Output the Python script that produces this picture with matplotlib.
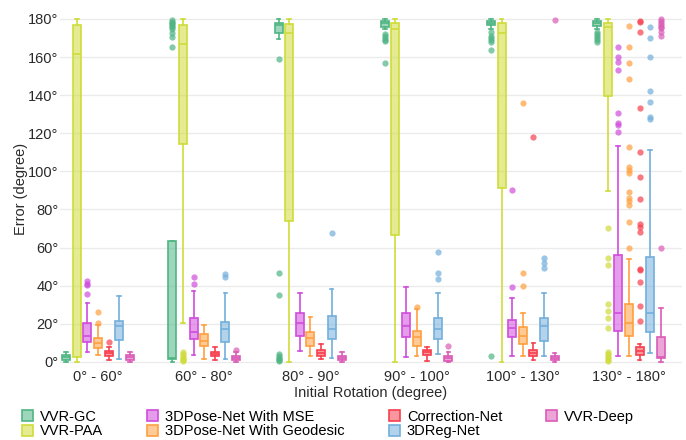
import numpy as np
import matplotlib.pyplot as plt
from matplotlib.patches import Patch
from matplotlib.colors import to_rgba

plt.rcParams['font.family'] = ['Liberation Sans', 'DejaVu Sans']

groups = ['0° - 60°', '60° - 80°', '80° - 90°', '90° - 100°', '100° - 130°', '130° - 180°']
models = ['VVR-GC', 'VVR-PAA', '3DPose-Net With MSE', '3DPose-Net With Geodesic',
          'Correction-Net', '3DReg-Net', 'VVR-Deep']
colors = ['#4fb583', '#cfdc3a', '#d04ddc', '#ffa040', '#f7404f', '#73afdc', '#db5cb6']

# (whisker low, q1, median, q3, whisker high) per group
vvr_gc = [(0, 1, 2.5, 3.5, 5), (0, 1.4, 1.8, 63.6, 63.6), (169.5, 172.8, 176.8, 178, 180),
          (174.6, 176, 177.7, 179, 180), (174.5, 176.8, 178, 179, 180), (174.5, 176.3, 177.7, 179, 180)]
vvr_paa = [(0, 2.5, 161.5, 177, 180), (20.6, 114.4, 166.7, 177, 180), (0, 74.1, 172.8, 177.5, 180),
           (0, 66.6, 174.7, 178, 180), (0, 91.1, 172.4, 178, 180), (89.7, 139.7, 175.6, 178, 180)]
mse = [(5, 10.7, 13.6, 20.3, 31), (3.7, 11.9, 15.6, 23.3, 37.4), (5.8, 13.6, 20.3, 25.5, 36),
       (2.4, 12.9, 19, 25.5, 39.5), (3.1, 12.9, 18, 22, 33.7), (3.1, 16.4, 25.5, 56.1, 113.3)]
geodesic = [(3.7, 7.5, 9.8, 12.8, 19.5), (1.4, 8.6, 11.2, 14.7, 19.4), (3.1, 8.6, 12.8, 15.9, 23.8),
            (3.1, 8.4, 13.3, 16.3, 28), (3.1, 9.3, 13.8, 18.5, 25.9), (3.1, 13.6, 20.3, 30.4, 53.9)]
correction = [(1, 3.3, 4.5, 5.9, 8), (1, 3.1, 4.2, 5.4, 8), (1.6, 3.1, 4.9, 6.3, 9.4),
              (0.7, 3.5, 5, 6.3, 8), (1, 3.3, 4.9, 6.3, 9.8), (1, 3.7, 5.9, 8, 9.4)]
reg_net = [(1.4, 11.5, 18.9, 21.5, 34.8), (1.4, 10.7, 17.1, 21.1, 36), (2.3, 11.9, 17.1, 24.1, 38.1),
           (4, 11.9, 17.1, 22.9, 36.4), (3.1, 11, 19, 22.9, 36), (4.9, 15.9, 25.9, 55.3, 111.2)]
vvr_deep = [(0, 1, 2.5, 3.7, 5), (0, 1, 2, 3.3, 5.4), (0, 1, 2, 3.3, 5),
            (0, 0.7, 2, 3.1, 5), (0, 1, 2, 3.1, 4.7), (0, 1.9, 2.8, 12.9, 28.2)]

# outliers per group
out_gc = [[], [179.5, 178.5, 178, 177.5, 176.5, 175.5, 174.5, 172.5, 170.5, 165],
          [158.8, 46.9, 35.2, 4, 3, 2, 1.5, 1, 0.5],
          [172, 171, 170, 169, 168.5, 156.7],
          [173, 171, 170, 169, 168, 163.7, 3.1],
          [173, 172, 171, 170, 169, 168]]
out_paa = [[], [5, 4, 3, 2, 1.5, 1, 0.5], [], [], [],
           [70.5, 54.4, 50.9, 30.3, 26.8, 22.9, 18, 5, 4, 3, 2, 1, 0.5]]
out_mse = [[42.7, 41, 40.5, 35.5], [44.4, 40.7], [], [], [39.5, 90.2],
           [165.4, 160.2, 157.2, 153.2, 130.5, 125.2, 124.3, 120.5]]
out_geo = [[26.4, 20.6], [], [], [29], [46.5, 39.9, 136],
           [176.3, 165.4, 157, 148.5, 112.6, 102.5, 100.7, 99, 89.3, 86.2, 84.4, 82.4, 73.6, 59.7]]
out_corr = [[10.7], [], [], [], [118.2],
            [179, 178.5, 173.3, 133.1, 110.3, 96.9, 85.4, 72.2, 71, 68.4, 48.6, 48, 42.1, 29.5, 21.7]]
out_reg = [[], [46.2, 44.8], [67.5], [57.9, 46.9, 43.7], [54.4, 51.8, 49.2],
           [176, 170.2, 159.9, 142.2, 136.6, 128.7, 127.3]]
out_deep = [[], [6], [], [8.6], [179.5],
            [180, 179, 178, 177, 176, 175, 173, 171, 59.7]]

all_stats = [vvr_gc, vvr_paa, mse, geodesic, correction, reg_net, vvr_deep]
all_out = [out_gc, out_paa, out_mse, out_geo, out_corr, out_reg, out_deep]

fig = plt.figure(figsize=(6.86, 4.40), dpi=100)
ax = fig.add_axes([0.0872, 0.171, 0.907, 0.799])

for m, (stats, outs, col) in enumerate(zip(all_stats, all_out, colors)):
    bstats = []
    for g in range(len(groups)):
        wl, q1, med, q3, wh = stats[g]
        bstats.append(dict(whislo=wl, q1=q1, med=med, q3=q3, whishi=wh, fliers=outs[g]))
    pos = np.arange(len(groups)) + (m - 3) * 0.1
    ax.bxp(bstats, positions=pos, widths=0.075, patch_artist=True, showfliers=True,
           boxprops=dict(facecolor=to_rgba(col, 0.55), edgecolor=col, linewidth=1.2),
           medianprops=dict(color=col, linewidth=1.2),
           whiskerprops=dict(color=col, linewidth=1.2),
           capprops=dict(color=col, linewidth=1.2),
           capwidths=0.035,
           flierprops=dict(marker='o', markersize=4.5, markerfacecolor=to_rgba(col, 0.7),
                           markeredgecolor='none', linestyle='none'))

ax.set_xlim(-0.36, 5.5)
ax.set_ylim(-1.5, 183)
ax.set_xticks(np.arange(len(groups)))
ax.set_xticklabels(groups)
ax.set_yticks(np.arange(0, 181, 20))
ax.set_yticklabels([f'{v}°' for v in range(0, 181, 20)])
ax.tick_params(axis='y', pad=1)
ax.tick_params(length=0, labelsize=10.5, colors='#2a2a2a')
ax.grid(axis='y', color='#ebebeb', linewidth=1)
ax.set_axisbelow(True)
for s in ax.spines.values():
    s.set_visible(False)
ax.set_xlabel('Initial Rotation (degree)', fontsize=10.5, color='#2a2a2a', labelpad=2)
ax.set_ylabel('Error (degree)', fontsize=10.5, color='#2a2a2a', labelpad=0)

handles = [Patch(facecolor=to_rgba(c, 0.55), edgecolor=c, linewidth=1.2) for c in colors]
fig.legend(handles, models, loc='upper left', bbox_to_anchor=(0.032, 0.069), ncol=4,
           frameon=False, fontsize=10.5, handlelength=0.75, handleheight=0.75,
           handletextpad=0.5, labelspacing=0.05, columnspacing=3.0, borderpad=0,
           borderaxespad=0)

fig.savefig('out.png', dpi=100)
